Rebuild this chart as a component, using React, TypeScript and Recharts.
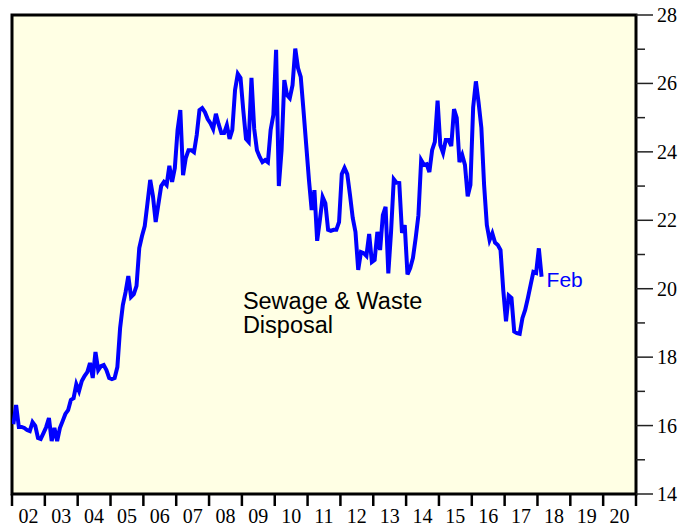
import { LineChart, Line, XAxis, YAxis, ReferenceArea, ReferenceDot } from 'recharts';

// Monthly index, Jan 2002 .. Feb 2018
const startYear = 2002;
const sewageValues = [
  16.04, 16.6, 15.96, 15.96, 15.93, 15.87, 15.84, 16.1, 15.99, 15.64, 15.61, 15.78,
  15.96, 16.22, 15.55, 15.93, 15.55, 15.93, 16.13, 16.34, 16.45, 16.75, 16.8, 17.21,
  17.01, 17.3, 17.45, 17.56, 17.83, 17.39, 18.15, 17.62, 17.74, 17.77, 17.62, 17.39,
  17.36, 17.39, 17.71, 18.85, 19.52, 19.9, 20.37, 19.76, 19.84, 20.08, 21.19, 21.54,
  21.83, 22.5, 23.18, 22.71, 21.95, 22.48, 23.0, 23.12, 23.03, 23.59, 23.12, 23.53,
  24.64, 25.22, 23.32, 23.82, 24.05, 24.05, 23.99, 24.49, 25.22, 25.28, 25.16, 24.96,
  24.84, 24.67, 25.11, 24.81, 24.55, 24.55, 24.78, 24.38, 24.64, 25.81, 26.28, 26.16,
  25.22, 24.38, 24.29, 26.16, 24.67, 24.05, 23.85, 23.7, 23.76, 23.7, 24.64, 25.08,
  26.98, 23.0, 24.05, 26.1, 25.66, 25.57, 25.95, 27.02, 26.45, 26.19, 25.22, 24.2,
  23.18, 22.3, 22.88, 21.4, 22.01, 22.68, 22.5, 21.72, 21.69, 21.72, 21.72, 21.95,
  23.35, 23.53, 23.35, 22.74, 22.07, 21.66, 20.55, 21.07, 21.04, 20.96, 21.6, 20.78,
  20.84, 21.66, 21.13, 22.15, 22.39, 20.45, 21.66, 23.2, 23.1, 23.09, 21.63, 21.86,
  20.42, 20.6, 20.9, 21.48, 22.15, 23.76, 23.62, 23.64, 23.41, 24.05, 24.29, 25.5,
  24.2, 23.97, 24.35, 24.35, 24.17, 25.25, 24.99, 23.7, 23.91, 23.62, 22.7, 23.03,
  25.3, 26.06, 25.43, 24.7, 23.03, 21.86, 21.42, 21.62, 21.35, 21.28, 21.13, 19.96,
  19.05, 19.8, 19.73, 18.75, 18.7, 18.68, 19.14, 19.38, 19.73, 20.11, 20.49, 20.46,
  21.18, 20.35,
];

const yearTicks = [2002, 2003, 2004, 2005, 2006, 2007, 2008, 2009, 2010, 2011,
  2012, 2013, 2014, 2015, 2016, 2017, 2018, 2019, 2020, 2021];
const yearLabels = ['02', '03', '04', '05', '06', '07', '08', '09', '10', '11',
  '12', '13', '14', '15', '16', '17', '18', '19', '20'];
const valueTicks = [14, 15, 16, 17, 18, 19, 20, 21, 22, 23, 24, 25, 26, 27, 28];

const data = sewageValues.map((v, i) => ({ t: startYear + (i + 0.5) / 12, v }));
const last = data[data.length - 1];

const yearWidth = 624 / 19;

function YearTick(props: any) {
  const { x, y, index } = props;
  const label = yearLabels[index];
  return (
    <g>
      <line x1={x} y1={y} x2={x} y2={y + 12} stroke="#000" strokeWidth={2.5} />
      {label && (
        <text x={x + yearWidth / 2} y={y + 29} textAnchor="middle"
          fontFamily="'Liberation Serif', serif" fontSize={20} fill="#000">
          {label}
        </text>
      )}
    </g>
  );
}

function ValueTick(props: any) {
  const { x, y, payload } = props;
  const major = payload.value % 2 === 0;
  return (
    <g>
      <line x1={x} y1={y} x2={x + (major ? 17 : 9)} y2={y} stroke="#222" strokeWidth={1.5} />
      {major && (
        <text x={x + 21} y={y} dy="0.35em" textAnchor="start"
          fontFamily="'Liberation Serif', serif" fontSize={20} fill="#000">
          {payload.value}
        </text>
      )}
    </g>
  );
}

function Annotation(props: any) {
  const { viewBox } = props;
  const x = viewBox.x + viewBox.width / 2;
  const y = viewBox.y + viewBox.height / 2;
  return (
    <text x={x} y={y} fontFamily="'Liberation Sans', Arial, sans-serif" fontSize={23.5} fill="#000">
      <tspan x={x} y={y}>Sewage &amp; Waste</tspan>
      <tspan x={x} y={y + 24}>Disposal</tspan>
    </text>
  );
}

export default function App() {
  return (
    <div style={{ position: 'absolute', left: 0, top: 0, background: '#fff' }}>
      <LineChart width={696} height={529} data={data}
        margin={{ top: 15, right: 10, bottom: 0, left: 12 }}>
        <XAxis dataKey="t" type="number" domain={[2002, 2021]} ticks={yearTicks}
          interval={0} height={35} axisLine={false} tickLine={false}
          tickSize={0} tickMargin={0} tick={<YearTick />} allowDataOverflow />
        <YAxis orientation="right" type="number" domain={[14, 28]} ticks={valueTicks}
          interval={0} width={50} axisLine={false} tickLine={false}
          tickSize={0} tickMargin={0} tick={<ValueTick />} allowDataOverflow />
        <ReferenceArea x1={2002} x2={2021} y1={14} y2={28} fill="#FFFFE4" fillOpacity={1}
          stroke="#000" strokeWidth={3} />
        <Line dataKey="v" stroke="#0000FF" strokeWidth={4} dot={false}
          type="linear" isAnimationActive={false} />
        <ReferenceDot x={2009.03} y={19.41} r={1} fill="none" stroke="none"
          label={<Annotation />} />
        <ReferenceDot x={last.t} y={last.v} r={1} fill="none" stroke="none"
          label={{ value: 'Feb', position: 'right', offset: 4, fill: '#0000FF', dy: 3,
            fontSize: 21, fontFamily: "'Liberation Sans', Arial, sans-serif" }} />
      </LineChart>
    </div>
  );
}
